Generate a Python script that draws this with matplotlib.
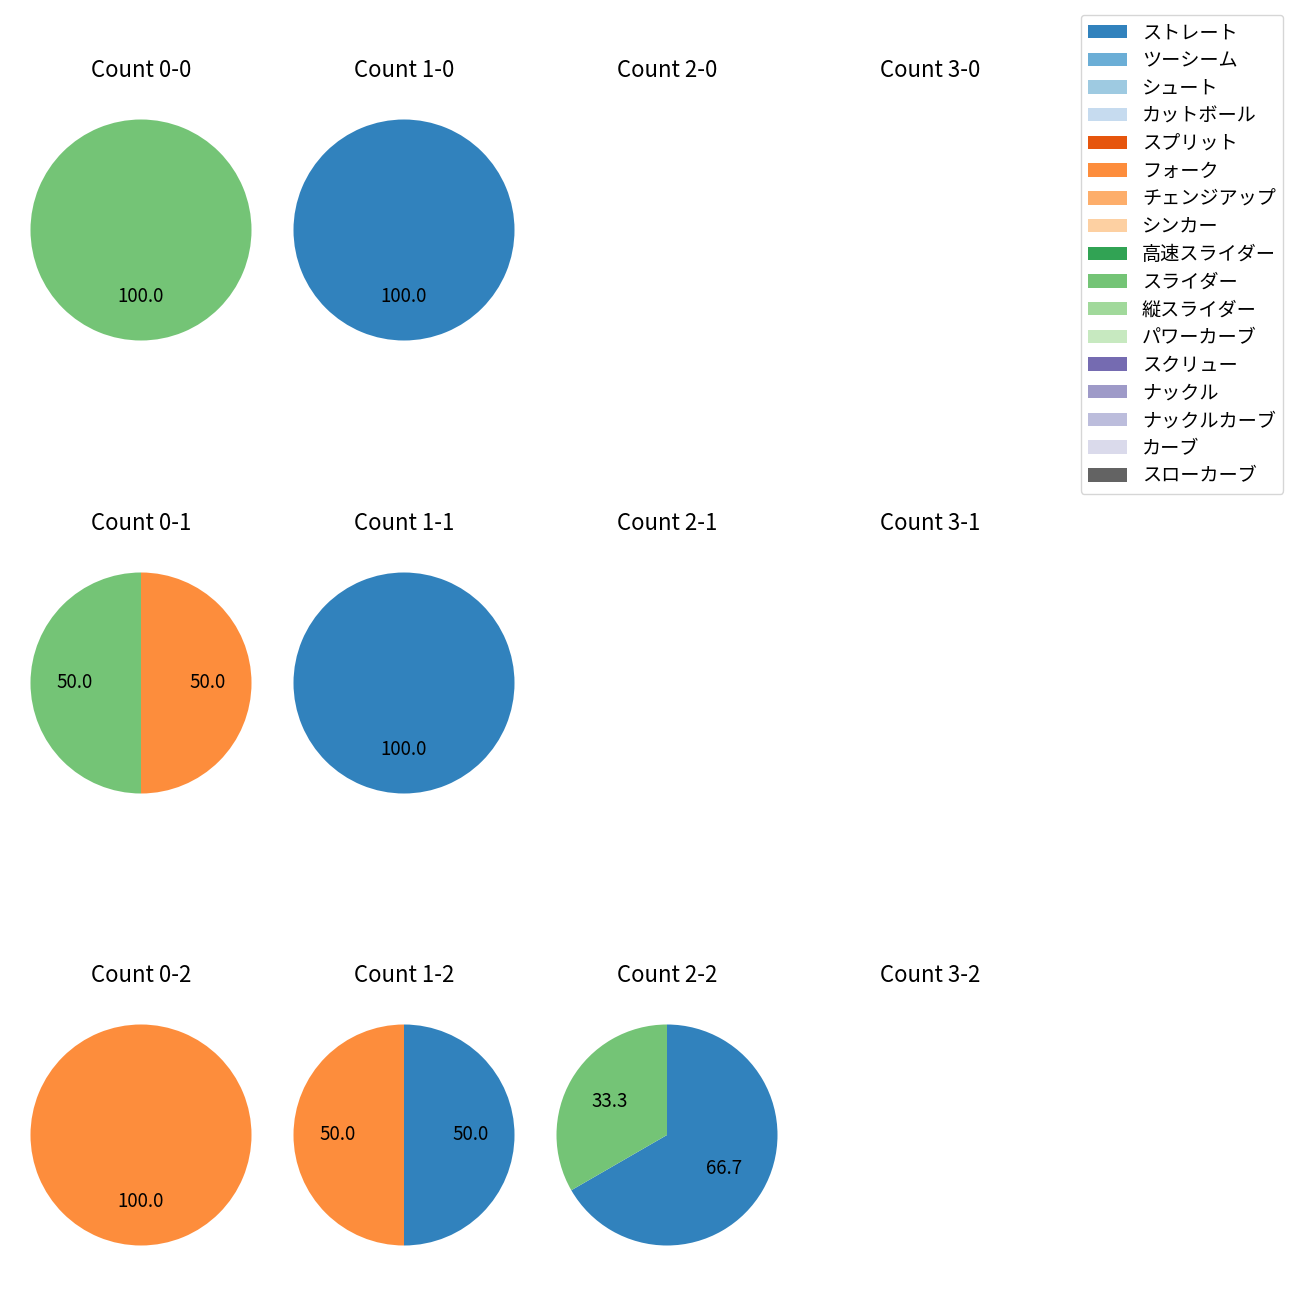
import matplotlib
matplotlib.use("Agg")
import matplotlib.pyplot as plt
from matplotlib.patches import Patch

plt.rcParams['font.family'] = ['Noto Sans CJK JP', 'DejaVu Sans']

pitch_types = ["ストレート", "ツーシーム", "シュート", "カットボール", "スプリット", "フォーク",
               "チェンジアップ", "シンカー", "高速スライダー", "スライダー", "縦スライダー",
               "パワーカーブ", "スクリュー", "ナックル", "ナックルカーブ", "カーブ", "スローカーブ"]

balls = [0, 1, 2, 3]
strikes = [0, 1, 2]

# pitch counts per ball-strike count
count_0_0 = {"スライダー": 1}
count_1_0 = {"ストレート": 1}
count_0_1 = {"フォーク": 1, "スライダー": 1}
count_1_1 = {"ストレート": 1}
count_0_2 = {"フォーク": 1}
count_1_2 = {"ストレート": 1, "フォーク": 1}
count_2_2 = {"ストレート": 2, "スライダー": 1}

data = {(0, 0): count_0_0, (1, 0): count_1_0, (0, 1): count_0_1, (1, 1): count_1_1,
        (0, 2): count_0_2, (1, 2): count_1_2, (2, 2): count_2_2}

cmap = plt.get_cmap('tab20c')
colors = {p: cmap(i) for i, p in enumerate(pitch_types)}

W = H = 1300
fig = plt.figure(figsize=(13, 13), dpi=100)

col_cx = [141, 404, 667, 930]
row_cy = [230, 683, 1135]
r = 110.5
s = 2.5 * r

for si, st in enumerate(strikes):
    for bi, b in enumerate(balls):
        cx, cy = col_cx[bi], row_cy[si]
        ax = fig.add_axes([(cx - s / 2) / W, 1 - (cy + s / 2) / H, s / W, s / H])
        d = data.get((b, st), {})
        labels = [p for p in pitch_types if d.get(p, 0) > 0]
        vals = [d[p] for p in labels]
        if vals:
            ax.pie(vals, colors=[colors[p] for p in labels], autopct='%.1f',
                   startangle=90, counterclock=False,
                   textprops={'fontsize': 13.5})
        ax.set_xlim(-1.25, 1.25)
        ax.set_ylim(-1.25, 1.25)
        ax.set_aspect('equal')
        ax.axis('off')
        ax.set_title(f"Count {b}-{st}", fontsize=16, pad=11)

handles = [Patch(facecolor=colors[p]) for p in pitch_types]
fig.legend(handles, pitch_types, loc='upper right', bbox_to_anchor=(1293 / W, 1 - 5 / H),
           fontsize=13.8, labelspacing=0.35)

fig.savefig("out.png", dpi=100)
